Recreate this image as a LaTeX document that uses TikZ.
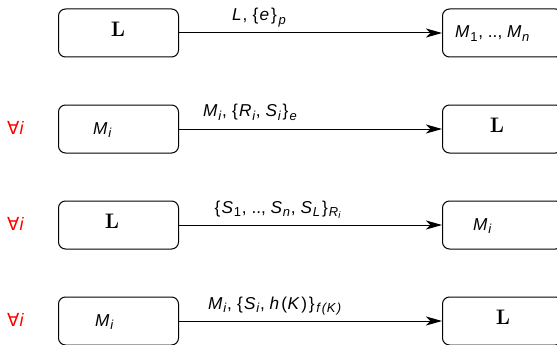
\documentclass[tikz,border=0pt]{standalone}
\usepackage{fontspec}
\usetikzlibrary{arrows.meta}
\newfontfamily\hv{Liberation Sans}
\newfontfamily\dvs{DejaVu Sans}
\newcommand\iv[1]{{\itshape #1}\kern0.8pt}
\newcommand\sbs[1]{\raisebox{-3.4pt}{\fontsize{13}{14}\selectfont\itshape #1}\kern0.8pt}
\newcommand\sbu[1]{\raisebox{-3.4pt}{\fontsize{13}{14}\selectfont #1}\kern0.8pt}
\newcommand\cm{,\hspace{4.8pt}}
\newcommand\lb{\kern0.5pt\{\kern1.2pt}
\newcommand\rb{\kern1.2pt\}\kern1.2pt}
\newcommand\bigL{{\fontsize{21}{24}\selectfont\bfseries L}}
\begin{document}
\begin{tikzpicture}[x=1pt,y=-1pt,
  box/.style={draw,line width=1pt,rounded corners=7pt,minimum width=120pt,minimum height=48pt,anchor=west},
  lbl/.style={font=\hv\fontsize{17.2}{19}\selectfont,inner sep=0pt,anchor=base west},
  txt/.style={font=\hv\fontsize{17.2}{19}\selectfont,inner sep=0pt},
  forall/.style={font=\fontsize{18}{20}\selectfont,text=red,inner sep=0pt,anchor=base west},
  arr/.style={line width=1pt,-{Stealth[length=16pt,width=9pt,inset=4.5pt]}}]
\useasboundingbox (0,0) rectangle (557,345);
\begin{scope}
\clip (0,0) rectangle (557,345);
% row 1
\node[box] (l1) at (58,33) {};
\node[box] (r1) at (442,33) {};
\node (l1t) at (118,29) {\bigL};
\node[txt,anchor=base west] (r1t) at (455,38) {\iv{M}\sbu{1}\cm..\cm\iv{M}\sbs{n}};
\draw[arr] (l1.east) -- (r1.west);
\node[lbl] (a1) at (232,21) {\iv{L}\cm\lb\iv{e}\rb\kern0.5pt\sbs{p}};
% row 2
\node[box] (l2) at (58,129) {};
\node[box] (r2) at (442,129) {};
\node[txt,anchor=base west] (l2t) at (93,134) {\iv{M}\sbs{i}};
\node (r2t) at (497,125) {\bigL};
\draw[arr] (l2.east) -- (r2.west);
\node[lbl] (a2) at (203,117) {\iv{M}\sbs{i}\cm\lb\iv{R}\sbs{i}\cm\iv{S}\sbs{i}\rb\sbs{e}};
\node[forall] (f2) at (7,134) {{\dvs ∀}{\hv\itshape i}};
% row 3
\node[box] (l3) at (58,225) {};
\node[box] (r3) at (442,225) {};
\node (l3t) at (112,221) {\bigL};
\node[txt,anchor=base west] (r3t) at (473,230) {\iv{M}\sbs{i}};
\draw[arr] (l3.east) -- (r3.west);
\node[lbl] (a3) at (214,213) {\lb\iv{S}\sbu{1}\cm..\cm\iv{S}\sbs{n}\cm\iv{S}\sbs{L}\rb\sbs{R\raisebox{-2pt}{\fontsize{9.5}{10}\selectfont i}}};
\node[forall] (f3) at (7,230) {{\dvs ∀}{\hv\itshape i}};
% row 4
\node[box] (l4) at (58,321) {};
\node[box] (r4) at (442,321) {};
\node[txt,anchor=base west] (l4t) at (95,326) {\iv{M}\sbs{i}};
\node (r4t) at (503,317) {\bigL};
\draw[arr] (l4.east) -- (r4.west);
\node[lbl] (a4) at (208,309) {\iv{M}\sbs{i}\cm\lb\iv{S}\sbs{i}\cm\iv{h}\kern1.5pt(\kern0.5pt\iv{K}\kern1.5pt)\kern0.5pt\rb\kern0.5pt\sbs{f\kern2pt(\kern0.5pt K\kern1.5pt)}};
\node[forall] (f4) at (7,326) {{\dvs ∀}{\hv\itshape i}};
\end{scope}
\end{tikzpicture}
\end{document}
